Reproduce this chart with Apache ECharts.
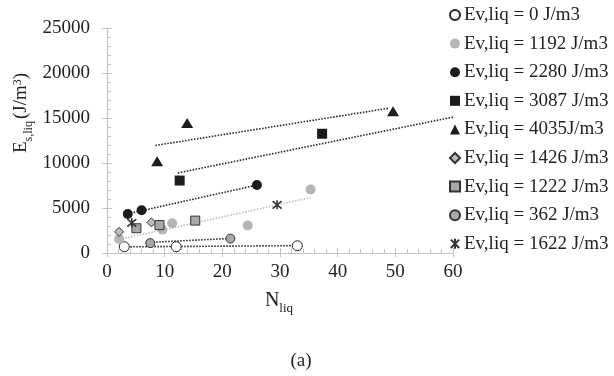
<!DOCTYPE html>
<html>
<head>
<meta charset="utf-8">
<script src="https://cdn.jsdelivr.net/npm/echarts@6/dist/echarts.min.js"></script>
<style>
  html, body { margin: 0; padding: 0; background: #fff; }
  #main-chart { width: 614px; height: 376px; }
</style>
</head>
<body>
<div id="main-chart"></div>
<script>
const chartDiv = 'main-chart';
const serif = "'Liberation Serif', 'Times New Roman', serif";

// legend names, one per scatter series
const seriesNames = [
    'Ev,liq = 0 J/m3',
    'Ev,liq = 1192 J/m3',
    'Ev,liq = 2280 J/m3',
    'Ev,liq = 3087 J/m3',
    'Ev,liq = 4035J/m3',
    'Ev,liq = 1426 J/m3',
    'Ev,liq = 1222 J/m3',
    'Ev,liq = 362 J/m3',
    'Ev,liq = 1622 J/m3'
];

// N_liq values
const nliq0 = [3, 12, 33];
const nliq1 = [2.1, 9.6, 11.3, 24.4, 35.3];
const nliq2 = [3.6, 6, 26];
const nliq3 = [12.6, 37.3];
const nliq4 = [8.7, 13.9, 49.6];
const nliq5 = [2.1, 7.7];
const nliq6 = [5.1, 9.1, 15.3];
const nliq7 = [7.5, 21.4];
const nliq8 = [4.3, 29.5];

// E_s,liq values
const es0 = [700, 700, 800];
const es1 = [1550, 2600, 3300, 3050, 7050];
const es2 = [4330, 4750, 7550];
const es3 = [8050, 13250];
const es4 = [10200, 14450, 15750];
const es5 = [2350, 3400];
const es6 = [2750, 3100, 3600];
const es7 = [1100, 1600];
const es8 = [3350, 5350];

// dotted trend lines: [x0, x1] and [y0, y1] end points as drawn
const trendX0 = [3, 33];      const trendY0 = [680, 820];
const trendX7 = [7.5, 21.4];  const trendY7 = [1180, 1620];
const trendX1 = [2.1, 35.3];  const trendY1 = [1500, 6150];
const trendX2 = [3.6, 26];    const trendY2 = [4360, 7550];
const trendX3 = [12.3, 60];   const trendY3 = [8900, 15100];
const trendX4 = [8.4, 49];    const trendY4 = [11950, 16100];

const xTicks = [0, 10, 20, 30, 40, 50, 60];
const yTicks = [0, 5000, 10000, 15000, 20000, 25000];

function pairs(xs, ys) {
    return xs.map(function (x, i) { return [x, ys[i]]; });
}

const markers = [
    {symbol: 'circle', size: 10, color: '#ffffff', border: '#222', bw: 1},
    {symbol: 'circle', size: 10, color: '#b5b5b5', border: '#b5b5b5', bw: 0},
    {symbol: 'circle', size: 10, color: '#1c1c1c', border: '#1c1c1c', bw: 0},
    {symbol: 'rect', size: 10, color: '#1c1c1c', border: '#1c1c1c', bw: 0},
    {symbol: 'triangle', size: [12, 10], color: '#1c1c1c', border: '#1c1c1c', bw: 0},
    {symbol: 'diamond', size: [9, 9], color: '#bdbdbd', border: '#333', bw: 1},
    {symbol: 'rect', size: 9, color: '#a8a8a8', border: '#333', bw: 1},
    {symbol: 'circle', size: 9, color: '#a8a8a8', border: '#333', bw: 1},
    {symbol: 'path://M0,0L10,10M10,0L0,10M5,-1L5,11', size: 9, color: 'rgba(0,0,0,0)', border: '#333', bw: 1.6}
];

const pointData = [
    pairs(nliq0, es0), pairs(nliq1, es1), pairs(nliq2, es2),
    pairs(nliq3, es3), pairs(nliq4, es4), pairs(nliq5, es5),
    pairs(nliq6, es6), pairs(nliq7, es7), pairs(nliq8, es8)
];

const trends = [
    {data: pairs(trendX0, trendY0), color: '#222'},
    {data: pairs(trendX7, trendY7), color: '#222'},
    {data: pairs(trendX1, trendY1), color: '#bdbdbd'},
    {data: pairs(trendX2, trendY2), color: '#222'},
    {data: pairs(trendX3, trendY3), color: '#222'},
    {data: pairs(trendX4, trendY4), color: '#222'}
];

let series = trends.map(function (t, i) {
    return {
        name: 'trend' + i,
        type: 'line',
        data: t.data,
        symbol: 'none',
        silent: true,
        z: 1,
        lineStyle: {color: t.color, width: 1.6, type: [1.5, 1.5]}
    };
});

seriesNames.forEach(function (name, i) {
    const m = markers[i];
    series.push({
        name: name,
        type: 'scatter',
        data: pointData[i],
        symbol: m.symbol,
        symbolSize: m.size,
        z: 3,
        itemStyle: {color: m.color, borderColor: m.border, borderWidth: m.bw, opacity: 1}
    });
});

const axisGray = '#c4c4c4';
const labelStyle = {fontFamily: serif, fontSize: 19, color: '#222'};

const mainChart = echarts.init(document.getElementById(chartDiv));

mainChart.setOption({
    animation: false,
    grid: {left: 107, right: 161, top: 28, bottom: 123},
    legend: {
        data: seriesNames,
        orient: 'vertical',
        left: 449,
        top: 5,
        padding: 0,
        itemWidth: 10,
        itemHeight: 10,
        itemGap: 8.6,
        textStyle: {fontFamily: serif, fontSize: 19, color: '#222', lineHeight: 20, padding: [0, 0, 0, -1]}
    },
    xAxis: [{
        type: 'value', min: xTicks[0], max: xTicks[xTicks.length - 1], interval: 10,
        position: 'bottom',
        axisLine: {lineStyle: {color: axisGray, width: 1.2}},
        axisTick: {show: true, inside: false, length: 4, lineStyle: {color: axisGray}},
        axisLabel: Object.assign({margin: 10, formatter: function (v) { return String(v); }}, labelStyle),
        splitLine: {show: false}
    }, {
        type: 'value', min: xTicks[0], max: xTicks[xTicks.length - 1], interval: 10,
        position: 'bottom',
        axisLine: {show: false},
        axisTick: {show: true, inside: true, length: 5, lineStyle: {color: axisGray}},
        minorTick: {show: true, splitNumber: 5, length: 4, lineStyle: {color: axisGray}},
        axisLabel: {show: false},
        splitLine: {show: false}
    }],
    yAxis: [{
        type: 'value', min: yTicks[0], max: yTicks[yTicks.length - 1], interval: 5000,
        position: 'left',
        axisLine: {show: true, lineStyle: {color: axisGray, width: 1.2}},
        axisTick: {show: true, inside: false, length: 5, lineStyle: {color: axisGray}},
        axisLabel: Object.assign({margin: 17, formatter: function (v) { return String(v); }}, labelStyle),
        splitLine: {show: false}
    }, {
        type: 'value', min: yTicks[0], max: yTicks[yTicks.length - 1], interval: 5000,
        position: 'left',
        axisLine: {show: false},
        axisTick: {show: true, inside: true, length: 5, lineStyle: {color: axisGray}},
        minorTick: {show: true, splitNumber: 5, length: 4, lineStyle: {color: axisGray}},
        axisLabel: {show: false},
        splitLine: {show: false}
    }],
    graphic: [{
        type: 'text',
        x: 23, y: 113,
        rotation: Math.PI / 2,
        style: {
            text: '{m|E}{s|s,liq}{m|(J/m}{p|3}{m|)}',
            align: 'center', verticalAlign: 'middle',
            fill: '#222',
            rich: {
                m: {fontFamily: serif, fontSize: 19, lineHeight: 23, verticalAlign: 'top', fill: '#222'},
                s: {fontFamily: serif, fontSize: 12, lineHeight: 13, verticalAlign: 'bottom', fill: '#222', padding: [0, 2, 0, 0]},
                p: {fontFamily: serif, fontSize: 12, lineHeight: 13, verticalAlign: 'top', fill: '#222'}
            }
        }
    }, {
        type: 'text',
        x: 279, y: 303,
        style: {
            text: '{m|N}{s|liq}',
            align: 'center', verticalAlign: 'middle',
            fill: '#222',
            rich: {
                m: {fontFamily: serif, fontSize: 20, lineHeight: 24, verticalAlign: 'top', fill: '#222'},
                s: {fontFamily: serif, fontSize: 13, lineHeight: 14, verticalAlign: 'bottom', fill: '#222'}
            }
        }
    }, {
        type: 'text',
        x: 301, y: 361,
        style: {text: '(a)', align: 'center', verticalAlign: 'middle', fontFamily: serif, fontSize: 19, fill: '#222'}
    }],
    series: series
});
</script>
</body>
</html>
